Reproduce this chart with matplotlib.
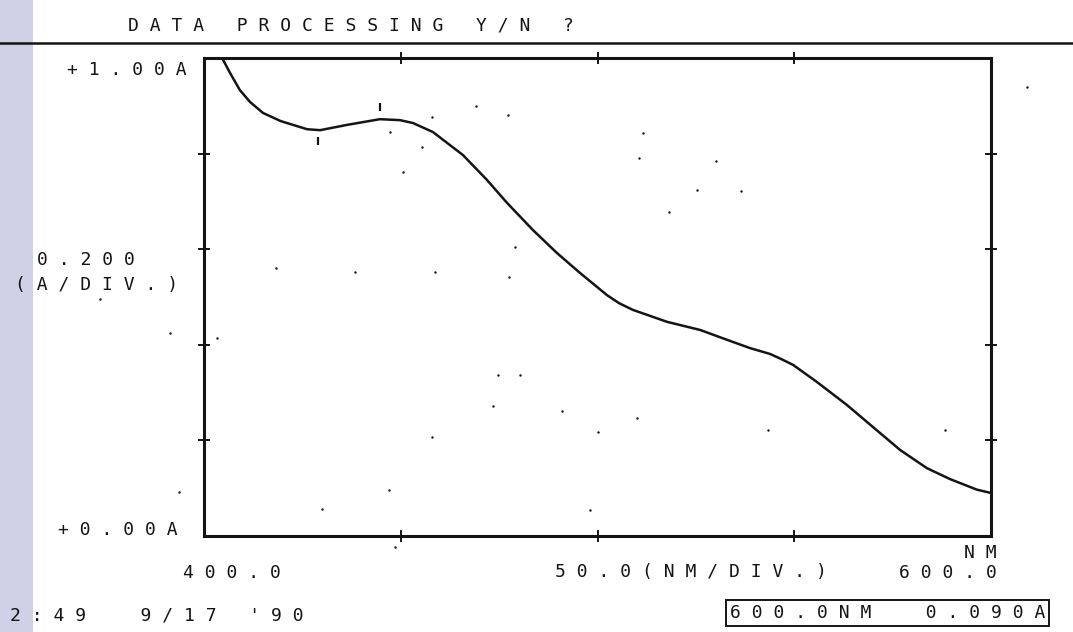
"""
Absorption scan printout, 400-600 nm, as it comes off the thermal printer.
Writes out.png.
"""
import matplotlib.pyplot as plt
import matplotlib as mpl

W, H = 1073, 632          # output size in pixels
INK = "#141414"
STRIP = "#cfd2e6"         # scanner bed showing along the left edge

mpl.rcParams.update({
    "font.family": "DejaVu Sans Mono",
    "font.size": 13,
})

# scan
WAVELENGTH = [404.6, 406.6, 409.1, 411.7, 415.0, 419.5, 426.2, 429.5, 436.3,
              444.7, 449.8, 453.1, 458.2, 465.8, 471.9, 477.0, 483.6, 489.7,
              495.6, 502.4, 505.5, 509.0, 517.7, 526.1, 534.4, 538.8, 543.8,
              546.5, 549.7, 555.8, 563.4, 570.0, 576.9, 583.7, 589.6, 596.4,
              600.0]
ABSORBANCE = [1.000, 0.969, 0.933, 0.908, 0.885, 0.868, 0.851, 0.849, 0.860,
              0.872, 0.870, 0.864, 0.845, 0.797, 0.745, 0.697, 0.640, 0.592,
              0.550, 0.504, 0.487, 0.473, 0.448, 0.431, 0.406, 0.393, 0.381,
              0.371, 0.358, 0.322, 0.274, 0.228, 0.180, 0.142, 0.119, 0.097,
              0.090]

# peak / valley pick marks
PEAK_NM, PEAK_MARK_A = 444.7, 0.897
VALLEY_NM, VALLEY_MARK_A = 429.0, 0.826

# stray dots left on the paper by the print head
SPECK_NM = [469.1, 477.3, 457.9, 455.4, 450.6, 447.3, 511.6, 510.5, 530.1,
            525.3, 536.5, 518.2, 477.5, 373.6, 391.4, 403.3, 418.3, 438.4,
            458.7, 479.0, 474.7, 480.3, 473.4, 491.0, 500.1, 510.0, 543.3,
            457.9, 393.6, 447.0, 430.0, 498.1, 609.2, 448.5, 588.3]
SPECK_A = [0.900, 0.881, 0.877, 0.814, 0.762, 0.845, 0.843, 0.791, 0.785,
           0.724, 0.722, 0.678, 0.542, 0.496, 0.425, 0.414, 0.561, 0.552,
           0.552, 0.605, 0.337, 0.337, 0.272, 0.262, 0.218, 0.247, 0.222,
           0.207, 0.092, 0.096, 0.056, 0.054, 0.939, -0.023, 0.222]

X_RANGE = (400.0, 600.0)
Y_RANGE = (0.0, 1.0)
X_DIV = 50.0
Y_DIV = 0.2

TITLE = "DATA PROCESSING Y/N ?"
STAMP = "2:49  9/17 '90"


def px(x, y):
    """pixel position (from top-left) -> figure fraction"""
    return x / W, 1 - y / H


def wide(s):
    # the printer puts a blank cell between characters
    return " ".join(s)


def put(x, y, s, ha="left", **kw):
    fx, fy = px(x, y)
    return fig.text(fx, fy, wide(s), ha=ha, va="baseline", color=INK, **kw)


fig = plt.figure(figsize=(W / 100, H / 100), dpi=100)

# scanner strip on the left edge
fig.patches.append(mpl.patches.Rectangle((0, 0), 33 / W, 1, transform=fig.transFigure,
                                         facecolor=STRIP, edgecolor="none", zorder=0))

# rule under the prompt line
fig.add_artist(mpl.lines.Line2D([0, 1], [1 - 43 / H] * 2, transform=fig.transFigure,
                                color=INK, linewidth=1.8))

left, bottom = px(204, 536)
right, top = px(991, 58)
ax = fig.add_axes([left, bottom, right - left, top - bottom])
ax.set_facecolor("none")

ax.plot(WAVELENGTH, ABSORBANCE, color=INK, linewidth=1.8,
        solid_capstyle="round", solid_joinstyle="round")
ax.plot([PEAK_NM], [PEAK_MARK_A], marker="|", markersize=6, mew=1.6, color=INK)
ax.plot([VALLEY_NM], [VALLEY_MARK_A], marker="|", markersize=6, mew=1.6, color=INK)
ax.scatter(SPECK_NM, SPECK_A, s=3, color=INK, linewidths=0, clip_on=False)

ax.set_xlim(*X_RANGE)
ax.set_ylim(*Y_RANGE)
ax.set_xticks([X_RANGE[0] + X_DIV * i for i in range(1, 4)])
ax.set_yticks([Y_RANGE[0] + Y_DIV * i for i in range(1, 5)])
ax.tick_params(direction="inout", length=9, width=1.4, color=INK,
               top=True, right=True, labelbottom=False, labelleft=False)
for sp in ax.spines.values():
    sp.set_linewidth(2.2)
    sp.set_color(INK)

# prompt and axis annotations
put(128, 30, TITLE)
put(187, 75, f"+{Y_RANGE[1]:.2f}A", ha="right")
put(178, 535, f"+{Y_RANGE[0]:.2f}A", ha="right")
put(37, 265, f"{Y_DIV:.3f}")
put(15, 290, "(A/DIV.)")
put(183, 578, f"{X_RANGE[0]:.1f}")
put(555, 577, f"{X_DIV:.1f}(NM/DIV.)")
put(997, 578, f"{X_RANGE[1]:.1f}", ha="right")
put(997, 558, "NM", ha="right")
put(10, 620, STAMP)

# cursor readout at the end of the scan
readout = f"{WAVELENGTH[-1]:.1f}NM  {ABSORBANCE[-1]:.3f}A"
put(1045, 618, readout, ha="right",
    bbox=dict(boxstyle="square,pad=0.2", facecolor="none", edgecolor=INK, linewidth=1.4))

fig.savefig("out.png", dpi=100)
